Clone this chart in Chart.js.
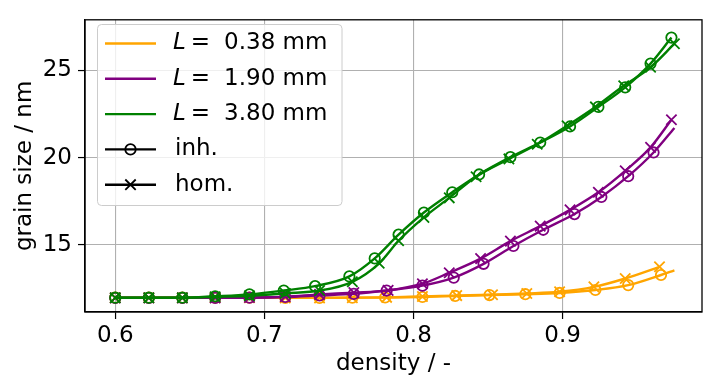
<!DOCTYPE html>
<html>
<head>
<meta charset="utf-8">
<script src="https://cdn.jsdelivr.net/npm/chart.js@4.4.0/dist/chart.umd.min.js"></script>
<style>
  html, body { margin: 0; padding: 0; background: #fff; }
</style>
</head>
<body>
<canvas id="chart" width="714" height="389"></canvas>
<script>
const xTicks = [0.6, 0.7, 0.8, 0.9];
const yTicks = [15, 20, 25];

const lengths = ['0.38', '1.90', '3.80'];
const colors = ['#ffa500', '#800080', '#008000'];
const styleLabels = ['inh.', 'hom.'];

// L = 0.38 mm
const orangeInhX = [0.600, 0.6225, 0.645, 0.667, 0.690, 0.714, 0.737, 0.759, 0.781, 0.806, 0.828, 0.851, 0.875, 0.898, 0.922, 0.944, 0.966, 0.975];
const orangeInhY = [11.98, 11.98, 11.98, 11.98, 11.98, 11.97, 11.97, 11.98, 11.99, 12.02, 12.08, 12.13, 12.18, 12.25, 12.42, 12.70, 13.28, 13.54];
const orangeHomX = [0.600, 0.6225, 0.645, 0.667, 0.690, 0.714, 0.737, 0.759, 0.782, 0.806, 0.829, 0.853, 0.876, 0.898, 0.921, 0.942, 0.965];
const orangeHomY = [11.98, 11.98, 11.98, 11.98, 11.98, 11.97, 11.97, 11.98, 12.00, 12.05, 12.10, 12.15, 12.22, 12.32, 12.60, 13.08, 13.75];

// L = 1.90 mm
const purpleInhX = [0.600, 0.6225, 0.645, 0.667, 0.690, 0.714, 0.737, 0.760, 0.782, 0.806, 0.827, 0.847, 0.867, 0.887, 0.908, 0.926, 0.944, 0.961, 0.975];
const purpleInhY = [11.97, 11.97, 11.97, 11.97, 11.98, 12.02, 12.11, 12.20, 12.39, 12.67, 13.13, 13.92, 14.94, 15.87, 16.77, 17.75, 18.94, 20.30, 21.70];
const purpleHomX = [0.600, 0.6225, 0.645, 0.667, 0.690, 0.714, 0.737, 0.760, 0.783, 0.806, 0.824, 0.845, 0.865, 0.885, 0.905, 0.924, 0.942, 0.959, 0.973];
const purpleHomY = [11.97, 11.97, 11.97, 11.97, 11.99, 12.04, 12.17, 12.27, 12.40, 12.78, 13.41, 14.22, 15.22, 16.08, 17.01, 18.02, 19.25, 20.59, 22.17];

// L = 3.80 mm
const greenInhX = [0.600, 0.6225, 0.645, 0.667, 0.690, 0.713, 0.734, 0.757, 0.774, 0.790, 0.807, 0.826, 0.844, 0.865, 0.885, 0.905, 0.924, 0.942, 0.959, 0.973];
const greenInhY = [11.98, 11.98, 11.98, 12.06, 12.17, 12.39, 12.64, 13.20, 14.23, 15.59, 16.86, 18.02, 19.04, 20.03, 20.87, 21.79, 22.91, 24.03, 25.39, 26.88];
const greenHomX = [0.600, 0.6225, 0.645, 0.667, 0.690, 0.714, 0.737, 0.759, 0.777, 0.790, 0.807, 0.824, 0.842, 0.864, 0.883, 0.903, 0.922, 0.941, 0.959, 0.975];
const greenHomY = [11.98, 11.98, 11.98, 12.03, 12.09, 12.23, 12.39, 12.89, 13.95, 15.24, 16.58, 17.70, 18.91, 19.93, 20.77, 21.83, 22.91, 24.12, 25.18, 26.53];

const FONT = '"DejaVu Sans", sans-serif';

function series(xs, ys, color, style, order, openEnd) {
  const r = style === 'circle' ? 5.2 : 7.3;
  return {
    data: xs.map((x, i) => ({ x, y: ys[i] })),
    borderColor: color,
    borderWidth: 2.4,
    pointStyle: style,
    pointRadius: xs.map((_, i) => (openEnd && i === xs.length - 1) ? 0 : r),
    pointBorderColor: color,
    pointBackgroundColor: 'rgba(0,0,0,0)',
    pointBorderWidth: 1.8,
    cubicInterpolationMode: 'monotone',
    fill: false,
    order,
  };
}

const frameAndLegend = {
  id: 'frameAndLegend',
  afterDatasetsDraw(chart) {
    const ctx = chart.ctx;
    const a = chart.chartArea;
    ctx.save();
    ctx.strokeStyle = '#000';
    ctx.lineWidth = 1.3;
    ctx.strokeRect(a.left, a.top, a.right - a.left, a.bottom - a.top);

    // legend box
    const bx = 97.5, by = 24.5, bw = 244.5, bh = 181, br = 4;
    ctx.beginPath();
    ctx.roundRect(bx, by, bw, bh, br);
    ctx.fillStyle = 'rgba(255,255,255,0.8)';
    ctx.fill();
    ctx.strokeStyle = '#cccccc';
    ctx.lineWidth = 1;
    ctx.stroke();

    const rowY = i => 43.5 + i * 35.3;
    const x0 = 105, x1 = 156, tx = 173;
    ctx.textBaseline = 'middle';
    ctx.textAlign = 'left';
    ctx.fillStyle = '#000';

    lengths.forEach((len, i) => {
      const y = rowY(i);
      ctx.strokeStyle = colors[i];
      ctx.lineWidth = 2.4;
      ctx.beginPath();
      ctx.moveTo(x0, y);
      ctx.lineTo(x1, y);
      ctx.stroke();
      ctx.font = 'italic 23px ' + FONT;
      ctx.fillText('L', tx, y);
      let x = tx + ctx.measureText('L').width + 5;
      ctx.font = '23px ' + FONT;
      ctx.fillText('=', x, y);
      x += ctx.measureText('=').width + 14;
      ctx.fillText(len + ' mm', x, y);
    });

    styleLabels.forEach((lab, j) => {
      const y = rowY(3 + j);
      ctx.strokeStyle = '#000';
      ctx.lineWidth = 2.4;
      ctx.beginPath();
      ctx.moveTo(x0, y);
      ctx.lineTo(x1, y);
      ctx.stroke();
      ctx.lineWidth = 1.8;
      const cx = (x0 + x1) / 2;
      if (j === 0) {
        ctx.beginPath();
        ctx.arc(cx, y, 5.2, 0, Math.PI * 2);
        ctx.stroke();
      } else {
        const d = 5.2;
        ctx.beginPath();
        ctx.moveTo(cx - d, y - d); ctx.lineTo(cx + d, y + d);
        ctx.moveTo(cx - d, y + d); ctx.lineTo(cx + d, y - d);
        ctx.stroke();
      }
      ctx.fillStyle = '#000';
      ctx.font = '23px ' + FONT;
      ctx.fillText(lab, tx + 2, y);
    });
    ctx.restore();
  }
};

const tickFont = { family: FONT, size: 23 };

new Chart(document.getElementById('chart'), {
  type: 'line',
  data: {
    datasets: [
      series(orangeInhX, orangeInhY, colors[0], 'circle', 6, true),
      series(orangeHomX, orangeHomY, colors[0], 'crossRot', 5, false),
      series(purpleInhX, purpleInhY, colors[1], 'circle', 4, true),
      series(purpleHomX, purpleHomY, colors[1], 'crossRot', 3, false),
      series(greenInhX, greenInhY, colors[2], 'circle', 2, false),
      series(greenHomX, greenHomY, colors[2], 'crossRot', 1, false),
    ]
  },
  options: {
    responsive: false,
    animation: false,
    devicePixelRatio: 1,
    layout: { padding: { top: 12, right: 12, left: 0, bottom: 0 } },
    plugins: { legend: { display: false }, tooltip: { enabled: false } },
    scales: {
      x: {
        type: 'linear',
        min: 0.5797,
        max: 0.9935,
        afterBuildTicks: s => { s.ticks = xTicks.map(v => ({ value: v })); },
        afterFit: s => { s.height = 77; },
        ticks: { font: tickFont, color: '#000', padding: 3, maxRotation: 0, callback: v => v.toFixed(1) },
        grid: { color: '#b0b0b0', lineWidth: 1.1, tickColor: '#000', tickLength: 7, tickWidth: 1.2 },
        border: { color: '#000', width: 1.3 },
        title: { display: true, text: 'density / -', font: tickFont, color: '#000', padding: { top: 0, bottom: 11 } }
      },
      y: {
        type: 'linear',
        min: 11.16,
        max: 27.9,
        afterBuildTicks: s => { s.ticks = yTicks.map(v => ({ value: v })); },
        afterFit: s => { s.width = 85; },
        ticks: { font: tickFont, color: '#000', padding: 6, callback: v => String(v) },
        grid: { color: '#b0b0b0', lineWidth: 1.1, tickColor: '#000', tickLength: 7, tickWidth: 1.2 },
        border: { color: '#000', width: 1.3 },
        title: { display: true, text: 'grain size / nm', font: tickFont, color: '#000', padding: { top: 11, bottom: 0 } }
      }
    }
  },
  plugins: [frameAndLegend]
});
</script>
</body>
</html>
